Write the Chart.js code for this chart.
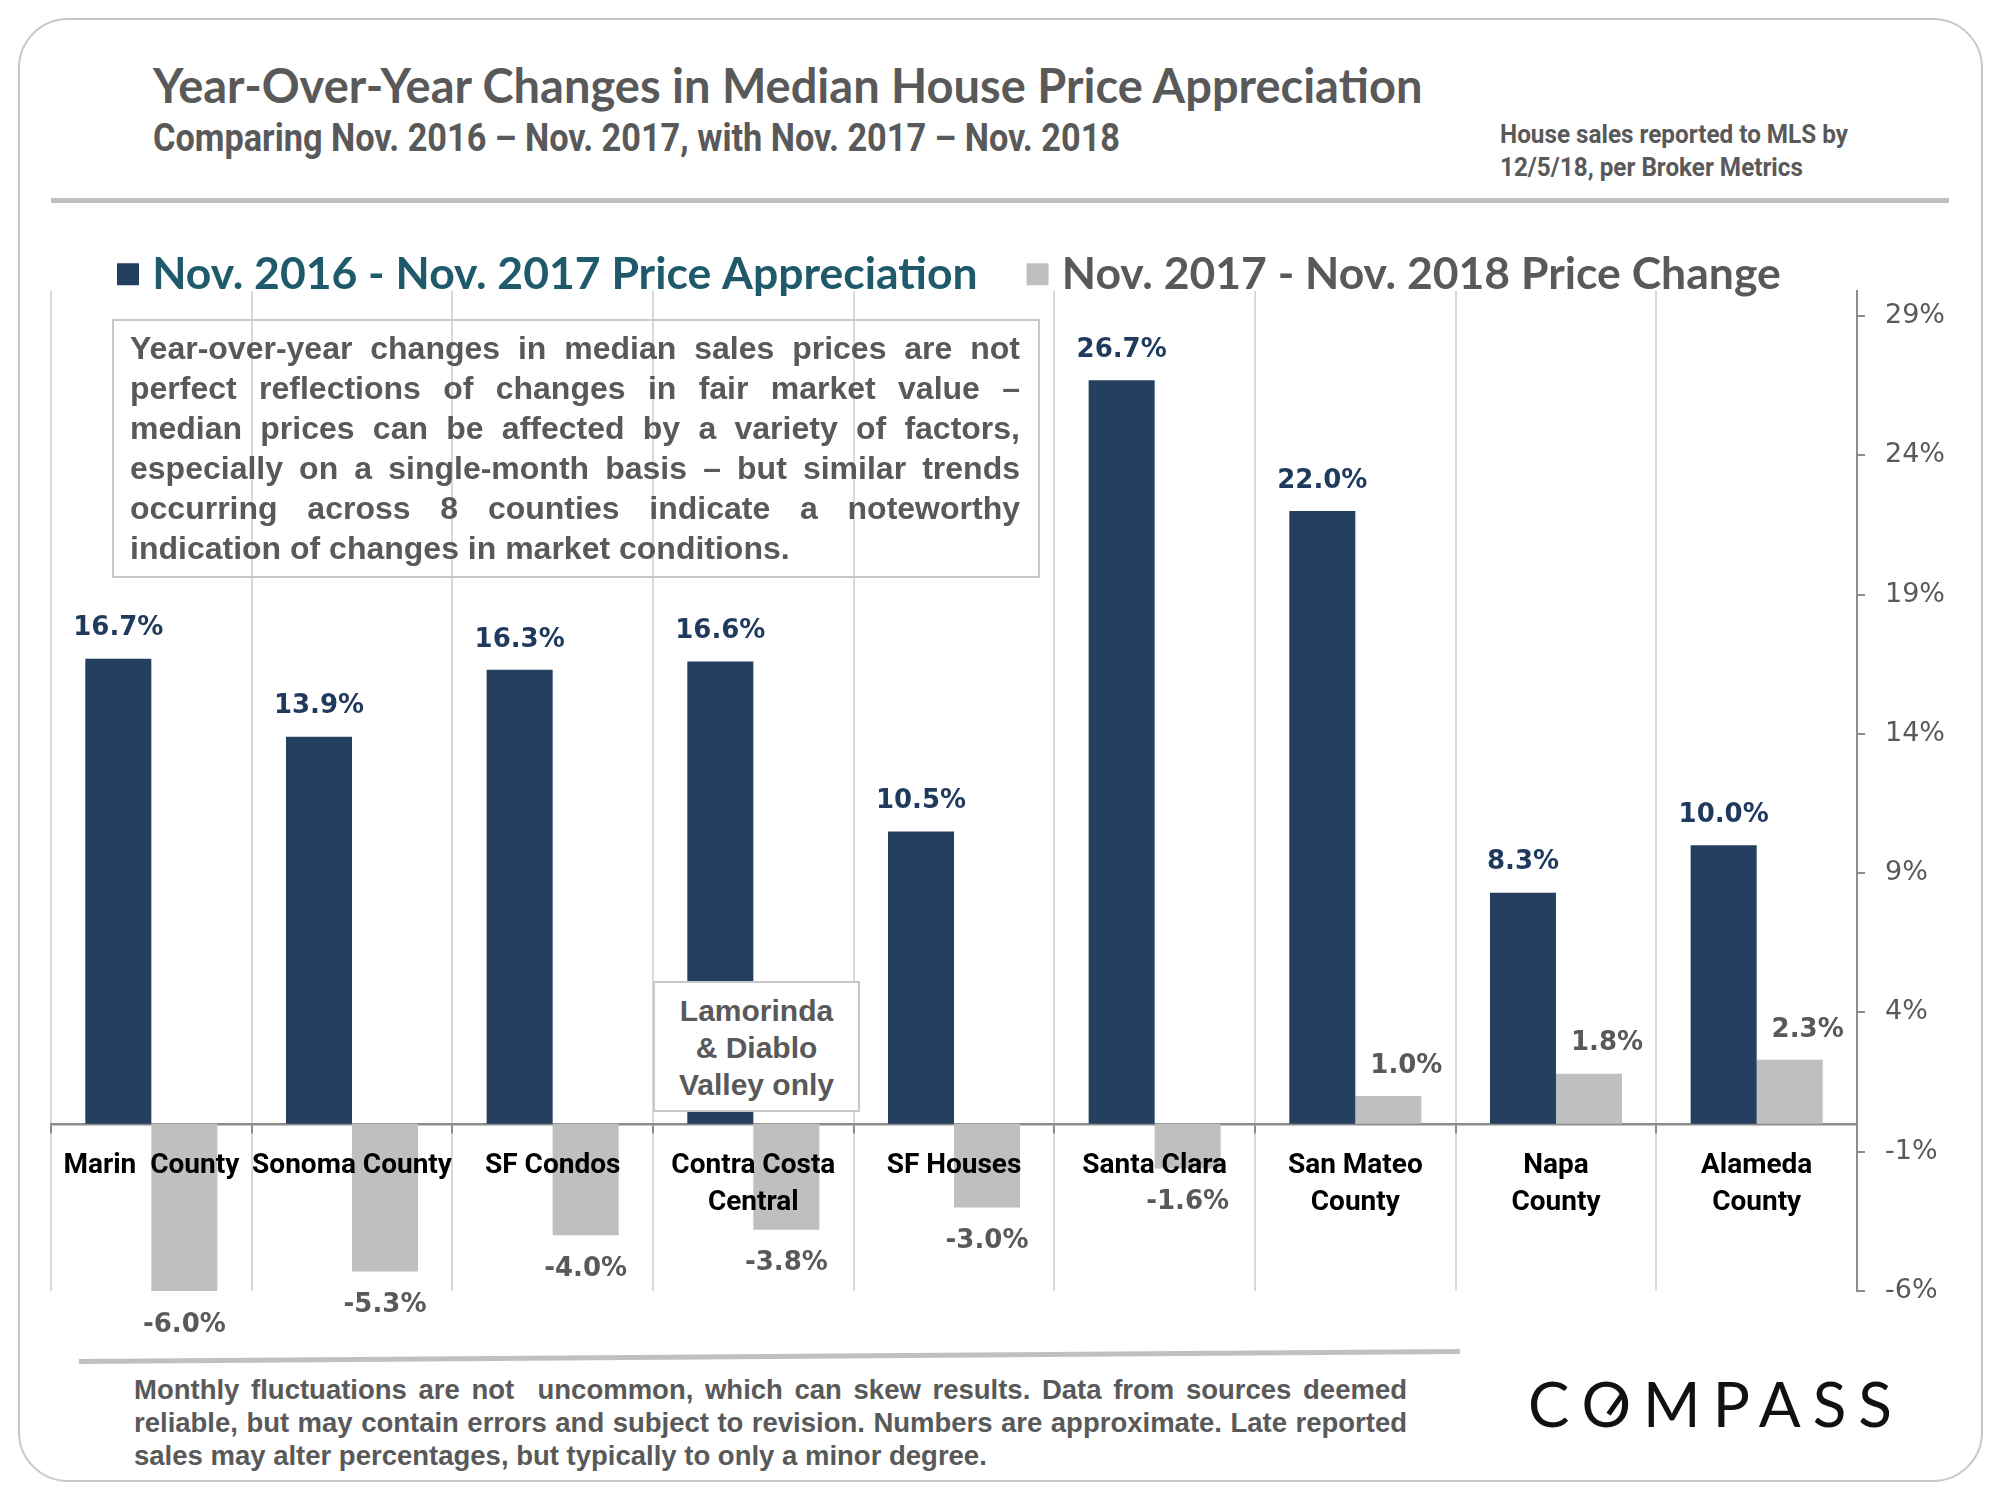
<!DOCTYPE html>
<html>
<head>
<meta charset="utf-8">
<script src="https://cdn.jsdelivr.net/npm/chart.js@4"></script>
<style>
html,body{margin:0;padding:0;background:#fff;}
#page{position:relative;width:2000px;height:1500px;overflow:hidden;font-family:"Liberation Sans",Arial,sans-serif;}
#frame{position:absolute;left:18px;top:18px;width:1965px;height:1464px;border:2px solid #c8c8c8;border-radius:50px;box-sizing:border-box;}
#title{position:absolute;left:153px;top:58px;font-family:Lato,sans-serif;font-weight:700;font-size:47px;line-height:55px;color:#595959;white-space:nowrap;}
#subtitle{position:absolute;left:153px;top:116px;font-family:Roboto,sans-serif;font-weight:700;font-size:38px;line-height:44px;color:#595959;white-space:nowrap;transform-origin:0 0;}
#note{position:absolute;left:1500px;top:118px;font-family:Roboto,sans-serif;font-weight:700;font-size:26px;line-height:33px;color:#595959;white-space:nowrap;transform-origin:0 0;}
#rule{position:absolute;left:51px;top:198px;width:1898px;height:5px;background:#c0c0c0;}
#chartbox{position:absolute;left:0;top:194px;width:2000px;height:1155px;}
#textbox{position:absolute;left:112px;top:319px;width:928px;height:259px;border:2px solid #c8c8c8;box-sizing:border-box;padding:7px 18px 0 16px;font-size:32px;line-height:40px;font-weight:700;color:#595959;}
#textbox div, #foot div{text-align:justify;text-align-last:justify;white-space:nowrap;}
#textbox div.last, #foot div.last{text-align:left;text-align-last:left;}
#lamo{position:absolute;left:653px;top:981px;width:207px;height:131px;border:2px solid #c8c8c8;box-sizing:border-box;background:#fff;padding-top:9px;font-size:30px;line-height:37px;font-weight:700;color:#595959;text-align:center;}
#footline{position:absolute;left:79px;top:1359px;width:1381px;height:5px;background:#c0c0c0;transform-origin:0 50%;transform:rotate(-0.415deg);}
#foot{position:absolute;left:134px;top:1373px;width:1273px;font-size:27.5px;line-height:33px;font-weight:700;color:#595959;}
#logo{position:absolute;left:1528px;top:1372px;font-family:Lato,sans-serif;font-weight:400;font-size:62px;line-height:62px;letter-spacing:12px;color:#111;white-space:nowrap;}
#logo .o{position:relative;display:inline-block;}
#logo .o::after{content:"";position:absolute;left:22px;top:29px;width:26px;height:5px;background:#111;transform:rotate(-55deg);}
</style>
</head>
<body>
<div id="page">
  <div id="frame"></div>
  <div id="title">Year-Over-Year Changes in Median House Price Appreciation</div>
  <div id="subtitle">Comparing Nov. 2016 – Nov. 2017, with Nov. 2017 – Nov. 2018</div>
  <div id="note">House sales reported to MLS by<br>12/5/18, per Broker Metrics</div>
  <div id="rule"></div>
  <div id="chartbox"><canvas id="c" width="2000" height="1155"></canvas></div>
  <div id="textbox">
    <div>Year-over-year changes in median sales prices are not</div>
    <div>perfect reflections of changes in fair market value –</div>
    <div>median prices can be affected by a variety of factors,</div>
    <div>especially on a single-month basis – but similar trends</div>
    <div>occurring across 8 counties indicate a noteworthy</div>
    <div class="last">indication of changes in market conditions.</div>
  </div>
  <div id="lamo">Lamorinda<br>&amp; Diablo<br>Valley only</div>
  <div id="footline"></div>
  <div id="foot">
    <div>Monthly fluctuations are not&nbsp; uncommon, which can skew results. Data from sources deemed</div>
    <div>reliable, but may contain errors and subject to revision. Numbers are approximate. Late reported</div>
    <div class="last">sales may alter percentages, but typically to only a minor degree.</div>
  </div>
  <div id="logo">C<span class="o">O</span>MPASS</div>
</div>
<script>
// ---- data ----
const categories = ["Marin  County", "Sonoma County", "SF Condos", ["Contra Costa", "Central"], "SF Houses", "Santa Clara", ["San Mateo", "County"], ["Napa", "County"], ["Alameda", "County"]];
const appreciation2016to2017 = [16.7, 13.9, 16.3, 16.6, 10.5, 26.7, 22.0, 8.3, 10.0];
const change2017to2018 = [-6.0, -5.3, -4.0, -3.8, -3.0, -1.6, 1.0, 1.8, 2.3];
const seriesNames = ["Nov. 2016 - Nov. 2017 Price Appreciation", "Nov. 2017 - Nov. 2018 Price Change"];
const yTickValues = [-6, -1, 4, 9, 14, 19, 24, 29];

const NAVY = '#243f60';
const GRAY = '#bfbfbf';
const legendTextColors = ['#1f5a6b', '#595959'];
const valueLabelColors = ['#1f3a5c', '#595959'];

// condense header texts to their reference widths
function fitWidth(id, target) {
  const el = document.getElementById(id);
  const w = el.getBoundingClientRect().width;
  el.style.transform = 'scaleX(' + (target / w) + ')';
}
fitWidth('subtitle', 967);
fitWidth('note', 348);

const valueLabels = {
  id: 'valueLabels',
  afterDatasetsDraw(chart) {
    const ctx = chart.ctx;
    chart.data.datasets.forEach((ds, di) => {
      const meta = chart.getDatasetMeta(di);
      meta.data.forEach((bar, i) => {
        const v = ds.data[i];
        ctx.save();
        ctx.font = 'bold 26px "DejaVu Sans", sans-serif';
        ctx.fillStyle = valueLabelColors[di];
        ctx.textAlign = 'center';
        ctx.textBaseline = 'middle';
        let x = bar.x, y;
        if (v >= 0) { y = bar.y - 30; if (di === 1) x += 18; }
        else { y = bar.y + 34; }
        ctx.fillText(v.toFixed(1) + '%', x, y);
        ctx.restore();
      });
    });
  }
};

// shift the legend row to the reference's left inset and let descenders show
const legendInset = {
  id: 'legendInset',
  afterLayout(chart) {
    chart.legend.left += 17;
    chart.legend.bottom += 24;
  }
};

new Chart(document.getElementById('c'), {
  type: 'bar',
  data: {
    labels: categories,
    datasets: [
      { label: seriesNames[0], data: appreciation2016to2017, backgroundColor: NAVY, categoryPercentage: 0.658, barPercentage: 1.0 },
      { label: seriesNames[1], data: change2017to2018, backgroundColor: GRAY, categoryPercentage: 0.658, barPercentage: 1.0 }
    ]
  },
  options: {
    responsive: false,
    animation: false,
    layout: { padding: { left: 51, right: 0, top: 0, bottom: 58 } },
    plugins: {
      tooltip: { enabled: false },
      legend: {
        position: 'top',
        align: 'start',
        maxHeight: 97,
        labels: {
          usePointStyle: true, pointStyle: 'rect',
          boxWidth: 4, boxHeight: 22, padding: 58,
          font: { family: 'Lato', weight: 'bold', size: 44.5 },
          generateLabels(chart) {
            return Chart.defaults.plugins.legend.labels.generateLabels(chart).map((it, i) => Object.assign(it, { fontColor: legendTextColors[i], lineWidth: 0, strokeStyle: 'rgba(0,0,0,0)', pointStyle: 'rect' }));
          }
        }
      }
    },
    scales: {
      x: {
        type: 'category',
        position: { y: 0 },
        offset: true,
        grid: { display: true, offset: true, color: '#d9d9d9', lineWidth: 2, drawTicks: true, tickLength: 8, tickColor: '#8c8c8c' },
        border: { display: true, color: '#8c8c8c', width: 2.5 },
        ticks: {
          z: 1, autoSkip: false, maxRotation: 0, minRotation: 0, padding: 16, color: '#000',
          font: { family: 'Roboto, sans-serif', weight: 'bold', size: 28, lineHeight: 1.32 }
        }
      },
      y: {
        position: 'right',
        min: -6,
        max: 29.9,
        afterBuildTicks(scale) { scale.ticks = yTickValues.map(v => ({ value: v })); },
        afterFit(scale) { scale.width = 143; },
        grid: { drawOnChartArea: false, drawTicks: true, tickLength: 8, tickColor: '#8c8c8c', lineWidth: 2 },
        border: { display: true, color: '#8c8c8c', width: 2 },
        ticks: {
          padding: 20, color: '#595959',
          font: { family: '"DejaVu Sans", sans-serif', size: 27 },
          callback: v => v + '%'
        }
      }
    }
  },
  plugins: [valueLabels, legendInset]
});
</script>
</body>
</html>
